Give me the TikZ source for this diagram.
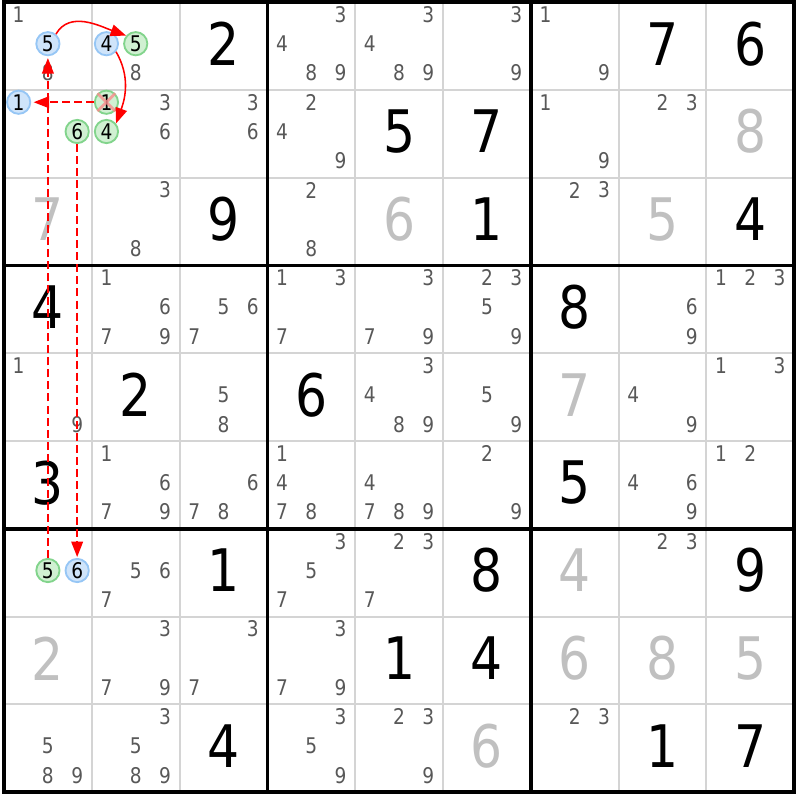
\documentclass[tikz,border=0pt]{standalone}
\usepackage{fontspec}
\usetikzlibrary{arrows.meta}

\newfontfamily\sudokufont{DejaVu Sans}[FakeStretch=0.86]
\newcommand{\bigdigit}{\sudokufont\fontsize{19}{19}\selectfont}
\newcommand{\smalldigit}{\sudokufont\fontsize{7}{7}\selectfont}

\definecolor{gridgray}{RGB}{212,212,212}
\definecolor{candgray}{RGB}{88,88,88}
\definecolor{solvedgray}{RGB}{192,192,192}
\definecolor{chainblue}{RGB}{207,228,250}
\definecolor{chainblueline}{RGB}{150,198,245}
\definecolor{chaingreen}{RGB}{208,240,210}
\definecolor{chaingreenline}{RGB}{130,212,140}
\definecolor{linkred}{RGB}{255,0,0}
\definecolor{crossred}{RGB}{250,140,140}

\begin{document}
\begin{tikzpicture}[
    given/.style={font=\bigdigit, inner sep=0pt},
    solved/.style={given, text=solvedgray},
    cand/.style={font=\smalldigit, text=candgray, inner sep=0pt},
    onchain/.style={circle, inner sep=0pt, minimum size=0.265cm, line width=0.6pt, font=\smalldigit, text=black},
    bluecand/.style={onchain, draw=chainblueline, fill=chainblue},
    greencand/.style={onchain, draw=chaingreenline, fill=chaingreen},
    stronglink/.style={color=linkred, line width=0.5pt, -{Triangle[length=5pt,width=3.8pt]}},
    weaklink/.style={stronglink, dash pattern=on 2.6pt off 1.3pt}
]
\useasboundingbox (-0.0456,0.0228) rectangle (9.0661,-9.0889);

% Lineas finas de las celdas
\foreach \i in {1,2,4,5,7,8} {
    \draw[gridgray, line width=0.6pt] (\i,0) -- (\i,-9);
    \draw[gridgray, line width=0.6pt] (0,-\i) -- (9,-\i);
}

% Bloques 3x3
\foreach \i in {3,6} {
    \draw[line width=1.2pt] (\i,0) -- (\i,-9);
    \draw[line width=1.2pt] (0,-\i) -- (9,-\i);
}
\draw[line width=1.2pt] (0,0) rectangle (9,-9);

% Numeros dados
\foreach \r/\c/\d in {
    1/3/2, 1/8/7, 1/9/6, 2/5/5, 2/6/7, 3/3/9, 3/6/1, 3/9/4,
    4/1/4, 4/7/8, 5/2/2, 5/4/6, 6/1/3, 6/7/5,
    7/3/1, 7/6/8, 7/9/9, 8/5/1, 8/6/4, 9/3/4, 9/8/1, 9/9/7} {
    \node[given] (g\r\c) at ({\c-0.5},{-\r+0.525}) {\d};
}

% Numeros resueltos (gris)
\foreach \r/\c/\d in {
    2/9/8, 3/1/7, 3/5/6, 3/8/5, 5/7/7, 7/7/4,
    8/1/2, 8/7/6, 8/8/8, 8/9/5, 9/6/6} {
    \node[solved] (g\r\c) at ({\c-0.5},{-\r+0.525}) {\d};
}

% Candidatos
\foreach \r/\c/\cands in {
    1/1/{1,8}, 1/2/{8}, 1/4/{3,4,8,9}, 1/5/{3,4,8,9}, 1/6/{3,9}, 1/7/{1,9},
    2/2/{3,6}, 2/3/{3,6}, 2/4/{2,4,9}, 2/7/{1,9}, 2/8/{2,3},
    3/2/{3,8}, 3/4/{2,8}, 3/7/{2,3},
    4/2/{1,6,7,9}, 4/3/{5,6,7}, 4/4/{1,3,7}, 4/5/{3,7,9}, 4/6/{2,3,5,9}, 4/8/{6,9}, 4/9/{1,2,3},
    5/1/{1,9}, 5/3/{5,8}, 5/5/{3,4,8,9}, 5/6/{5,9}, 5/8/{4,9}, 5/9/{1,3},
    6/2/{1,6,7,9}, 6/3/{6,7,8}, 6/4/{1,4,7,8}, 6/5/{4,7,8,9}, 6/6/{2,9}, 6/8/{4,6,9}, 6/9/{1,2},
    7/2/{5,6,7}, 7/4/{3,5,7}, 7/5/{2,3,7}, 7/8/{2,3},
    8/2/{3,7,9}, 8/3/{3,7}, 8/4/{3,7,9},
    9/1/{5,8,9}, 9/2/{3,5,8,9}, 9/4/{3,5,9}, 9/5/{2,3,9}, 9/7/{2,3}} {
    \foreach \d in \cands {
        \pgfmathsetmacro{\xc}{\c-1+(mod(\d-1,3)+0.5)/3}
        \pgfmathsetmacro{\yc}{-(\r-1)-(floor((\d-1)/3)+0.5)/3+0.025}
        \node[cand] (n\r\c\d) at (\xc,\yc) {\d};
    }
}

% Candidatos de la cadena
\foreach \r/\c/\d/\kind in {
    1/1/5/bluecand, 1/2/4/bluecand, 2/1/1/bluecand, 7/1/6/bluecand,
    1/2/5/greencand, 2/1/6/greencand, 2/2/1/greencand, 2/2/4/greencand, 7/1/5/greencand} {
    \pgfmathsetmacro{\xc}{\c-1+(mod(\d-1,3)+0.5)/3}
    \pgfmathsetmacro{\yc}{-(\r-1)-(floor((\d-1)/3)+0.5)/3+0.025}
    \node[\kind] (n\r\c\d) at (\xc,\yc) {\d};
}

% Candidato eliminado
\draw[crossred, line width=0.9pt, opacity=0.8]
    (n221.north west) -- (n221.south east)
    (n221.north east) -- (n221.south west);

% Enlaces
\draw[stronglink] (n115.50) to[out=60,in=160] (n125.140);
\draw[stronglink] (n124.-40) to[out=-60,in=70] (n224.40);
\draw[weaklink, shorten >=0.8pt] (n221.west) -- (n211.east);
\draw[weaklink, shorten >=0.6pt] (n715.north) -- (n115.south);
\draw[weaklink, shorten >=0.3pt] (n216.south) -- (n716.north);
\end{tikzpicture}
\end{document}
